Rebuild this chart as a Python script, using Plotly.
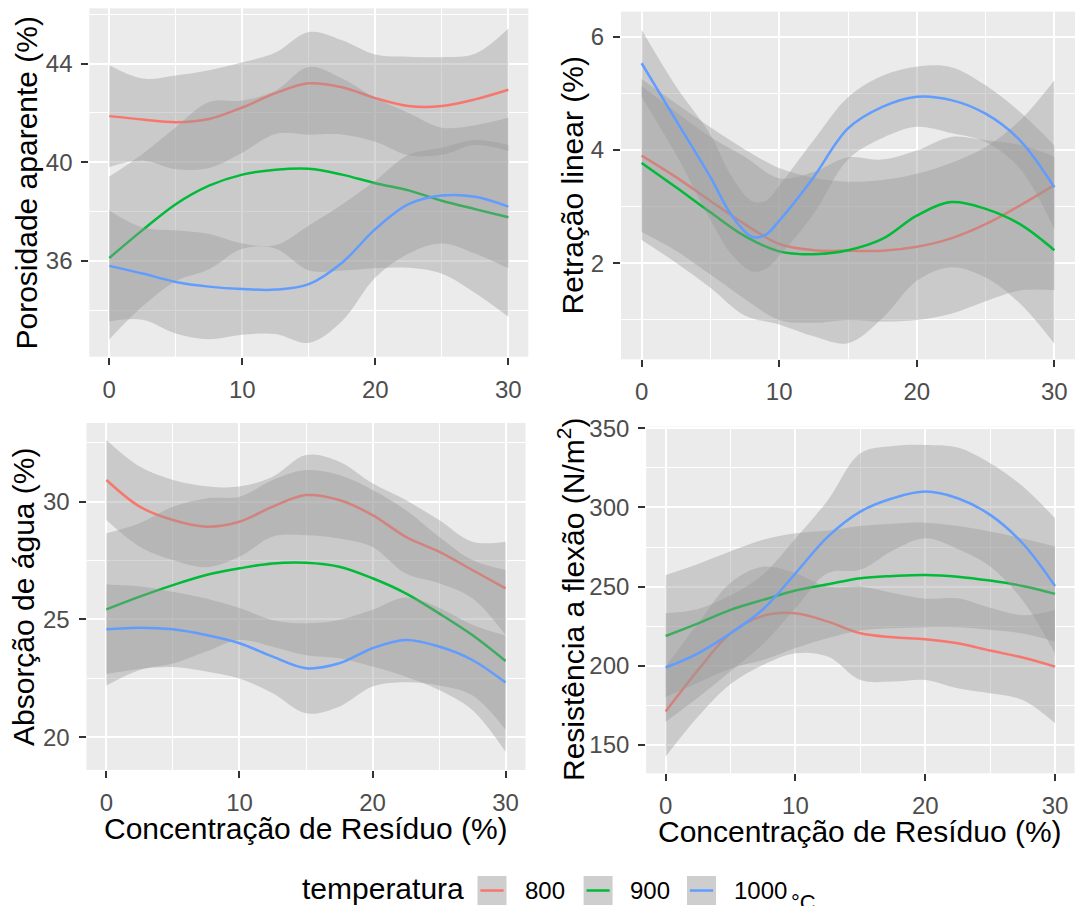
import plotly.graph_objects as go

# ---------------- data ----------------
X = [0, 2.5, 5, 7.5, 10, 12.5, 15, 17.5, 20, 22.5, 25, 27.5, 30]
X_RET_1000 = [0, 2.5, 5, 6.5, 8, 9, 10, 12.5, 15, 17.5, 20, 22.5, 25, 27.5, 30]
TEMPS = ["800", "900", "1000"]
COLORS = ["#F8766D", "#00BA38", "#619CFF"]

# Porosidade aparente (%)
por_800 = [41.87, 41.73, 41.62, 41.75, 42.22, 42.80, 43.20, 43.04, 42.60, 42.28, 42.28, 42.55, 42.94]
por_800_hi = [43.93, 43.39, 43.52, 43.73, 44.05, 44.45, 45.28, 44.95, 44.37, 44.28, 44.26, 44.40, 45.42]
por_800_lo = [39.81, 40.07, 39.72, 39.77, 40.39, 41.15, 41.12, 41.13, 40.83, 40.28, 40.30, 40.70, 40.46]
por_900 = [36.12, 37.25, 38.30, 39.05, 39.50, 39.70, 39.74, 39.50, 39.15, 38.86, 38.44, 38.10, 37.77]
por_900_hi = [39.42, 40.34, 41.42, 42.44, 42.50, 42.90, 43.86, 43.39, 42.60, 42.00, 41.40, 41.50, 41.80]
por_900_lo = [32.82, 34.16, 35.18, 35.66, 36.50, 36.50, 35.62, 35.61, 35.70, 35.72, 35.48, 34.70, 33.74]
por_1000 = [35.80, 35.49, 35.15, 34.96, 34.86, 34.84, 35.06, 35.93, 37.29, 38.30, 38.65, 38.60, 38.20]
por_1000_hi = [38.05, 37.36, 37.24, 37.09, 36.71, 36.64, 37.44, 38.29, 39.25, 40.30, 40.59, 40.90, 40.70]
por_1000_lo = [33.55, 33.62, 33.06, 32.83, 33.01, 33.04, 32.68, 33.57, 35.33, 36.30, 36.71, 36.30, 35.70]

# Retração linear (%)
ret_800 = [3.90, 3.52, 3.10, 2.69, 2.34, 2.23, 2.22, 2.22, 2.29, 2.44, 2.69, 3.02, 3.38]
ret_800_hi = [5.25, 4.82, 4.40, 4.01, 3.68, 3.51, 3.44, 3.47, 3.58, 3.77, 4.05, 4.52, 5.23]
ret_800_lo = [2.55, 2.22, 1.80, 1.37, 1.00, 0.95, 1.00, 0.97, 1.00, 1.11, 1.33, 1.52, 1.53]
ret_900 = [3.77, 3.34, 2.90, 2.48, 2.21, 2.16, 2.23, 2.43, 2.84, 3.08, 2.96, 2.69, 2.23]
ret_900_hi = [5.13, 4.67, 4.23, 3.88, 3.50, 3.61, 3.87, 3.83, 3.99, 4.23, 4.17, 4.09, 3.88]
ret_900_lo = [2.41, 2.01, 1.57, 1.08, 0.92, 0.71, 0.59, 1.03, 1.69, 1.93, 1.75, 1.29, 0.58]
ret_1000 = [5.53, 4.52, 3.52, 2.86, 2.47, 2.50, 2.75, 3.52, 4.38, 4.76, 4.94, 4.88, 4.64, 4.17, 3.34]
ret_1000_hi = [6.12, 5.12, 4.27, 3.55, 3.10, 3.10, 3.37, 4.17, 4.93, 5.31, 5.47, 5.46, 5.14, 4.67, 4.08]
ret_1000_lo = [4.94, 3.92, 2.77, 2.17, 1.86, 1.90, 2.13, 2.87, 3.83, 4.21, 4.41, 4.30, 4.14, 3.67, 2.60]

# Absorção de água (%)
abs_800 = [30.92, 29.79, 29.22, 28.94, 29.15, 29.79, 30.28, 30.07, 29.43, 28.51, 27.88, 27.10, 26.32]
abs_800_hi = [32.62, 31.49, 30.92, 30.66, 30.64, 31.06, 31.98, 31.70, 30.78, 30.07, 29.22, 28.30, 28.30]
abs_800_lo = [29.22, 28.09, 27.52, 27.22, 27.66, 28.52, 28.58, 28.44, 28.08, 26.95, 26.54, 25.90, 24.34]
abs_900 = [25.43, 25.97, 26.46, 26.89, 27.17, 27.38, 27.41, 27.24, 26.75, 26.11, 25.26, 24.34, 23.24]
abs_900_hi = [28.66, 29.08, 29.79, 30.14, 30.21, 30.92, 31.34, 31.13, 30.50, 29.65, 28.51, 27.52, 27.10]
abs_900_lo = [22.20, 22.86, 23.13, 23.64, 24.13, 23.84, 23.48, 23.35, 23.00, 22.57, 22.01, 21.16, 19.38]
abs_1000 = [24.58, 24.65, 24.58, 24.34, 23.99, 23.42, 22.93, 23.14, 23.78, 24.13, 23.85, 23.28, 22.32]
abs_1000_hi = [26.48, 26.40, 26.18, 25.89, 25.49, 24.97, 24.84, 24.98, 25.41, 25.93, 25.50, 24.78, 24.32]
abs_1000_lo = [22.68, 22.90, 22.98, 22.79, 22.49, 21.87, 21.02, 21.30, 22.15, 22.33, 22.20, 21.78, 20.32]

# Resistência a flexão (N/m²)
res_800 = [171.1, 197.4, 220.5, 231.5, 233.2, 227.9, 220.5, 218.0, 216.7, 214.2, 209.6, 205.2, 199.5]
res_800_hi = [199.6, 226.9, 252.5, 262.5, 258.5, 250.0, 250.0, 246.0, 242.4, 242.6, 236.6, 232.0, 235.3]
res_800_lo = [142.6, 167.9, 188.5, 200.5, 207.9, 205.8, 191.0, 190.0, 191.0, 185.8, 182.6, 178.4, 163.7]
res_900 = [218.8, 226.8, 235.3, 241.6, 247.5, 251.5, 255.3, 256.7, 257.4, 256.3, 253.8, 250.4, 245.4]
res_900_hi = [257.3, 264.3, 272.3, 279.6, 283.7, 285.5, 288.3, 289.7, 290.4, 288.3, 284.8, 280.4, 275.4]
res_900_lo = [180.3, 189.3, 198.3, 203.6, 211.3, 217.5, 222.3, 223.7, 224.4, 224.3, 222.8, 220.4, 215.4]
res_1000 = [198.9, 207.9, 220.5, 235.7, 258.4, 281.6, 297.4, 305.8, 310.0, 305.8, 295.3, 277.4, 250.4]
res_1000_hi = [233.2, 235.9, 244.5, 257.7, 280.4, 304.6, 334.2, 338.8, 339.5, 337.8, 327.9, 313.4, 293.2]
res_1000_lo = [164.6, 179.9, 196.5, 213.7, 236.4, 258.6, 260.6, 272.8, 280.5, 273.8, 262.7, 241.4, 207.6]

X_TICKS = [0, 10, 20, 30]
X_MINOR = [5, 15, 25]
Y_TICKS = [[36, 40, 44], [2, 4, 6], [20, 25, 30], [150, 200, 250, 300, 350]]
Y_MINOR = [[34, 38, 42, 46], [1, 3, 5], [22.5, 27.5, 32.5], [175, 225, 275, 325]]
Y_TITLES = ["Porosidade aparente (%)", "Retração linear (%)",
            "Absorção de água (%)", "Resistência a flexão (N/m<sup>2</sup>)"]
X_TITLE = "Concentração de Resíduo (%)"
LEGEND_TITLE = "temperatura"

PANELS = [
    [(X, por_800, por_800_lo, por_800_hi), (X, por_900, por_900_lo, por_900_hi),
     (X, por_1000, por_1000_lo, por_1000_hi)],
    [(X, ret_800, ret_800_lo, ret_800_hi), (X, ret_900, ret_900_lo, ret_900_hi),
     (X_RET_1000, ret_1000, ret_1000_lo, ret_1000_hi)],
    [(X, abs_800, abs_800_lo, abs_800_hi), (X, abs_900, abs_900_lo, abs_900_hi),
     (X, abs_1000, abs_1000_lo, abs_1000_hi)],
    [(X, res_800, res_800_lo, res_800_hi), (X, res_900, res_900_lo, res_900_hi),
     (X, res_1000, res_1000_lo, res_1000_hi)],
]

# ---------------- layout geometry (pixels) ----------------
W, H = 1075, 906
FONT = "Liberation Sans, Arial, sans-serif"
def px(x):
    return x / W
def py(y):
    return 1 - y / H

# panel boxes: left, right, top, bottom (pixels)
BOX = [(89.3, 528.3, 8.3, 356.7), (621.0, 1075.0, 11.7, 359.3),
       (86.5, 525.5, 423.0, 770.0), (646.2, 1074.5, 426.7, 773.3)]
Y_RANGE = [[32.12, 46.24], [0.305, 6.44], [18.61, 33.34], [132.1, 351.0]]
X_RANGE = [-1.5, 31.5]

fig = go.Figure()
BAND = "rgba(153,153,153,0.4)"

for p, series in enumerate(PANELS):
    xa = "x" if p == 0 else f"x{p+1}"
    ya = "y" if p == 0 else f"y{p+1}"
    for (xs, mean, lo, hi), color, t in zip(series, COLORS, TEMPS):
        fig.add_trace(go.Scatter(x=xs, y=lo, xaxis=xa, yaxis=ya, mode="lines",
                                 line=dict(width=0, shape="spline"), showlegend=False,
                                 hoverinfo="skip"))
        fig.add_trace(go.Scatter(x=xs, y=hi, xaxis=xa, yaxis=ya, mode="lines",
                                 line=dict(width=0, shape="spline"), fill="tonexty",
                                 fillcolor=BAND, showlegend=False, hoverinfo="skip"))
        fig.add_trace(go.Scatter(x=xs, y=mean, xaxis=xa, yaxis=ya, mode="lines",
                                 line=dict(width=2.5, color=color, shape="spline"),
                                 name=t, showlegend=False))

layout = dict(width=W, height=H, margin=dict(l=0, r=0, t=0, b=0, pad=0),
              paper_bgcolor="white", plot_bgcolor="#EBEBEB", autosize=False,
              font=dict(family=FONT, color="black"), showlegend=False)

tickfont = dict(family=FONT, size=24, color="#4D4D4D")
for p in range(4):
    l, r, t, b = BOX[p]
    sx = "xaxis" if p == 0 else f"xaxis{p+1}"
    sy = "yaxis" if p == 0 else f"yaxis{p+1}"
    ya = "y" if p == 0 else f"y{p+1}"
    xa = "x" if p == 0 else f"x{p+1}"
    common = dict(ticks="outside", ticklen=7, tickwidth=1.5, tickcolor="#333333",
                  showgrid=True, gridcolor="white", gridwidth=2, zeroline=False,
                  showline=False, tickfont=tickfont, tickmode="array",
                  ticklabelstandoff=4, automargin=False)
    layout[sx] = dict(domain=[px(l), px(r)], range=X_RANGE, anchor=ya,
                      tickvals=X_TICKS,
                      minor=dict(tickmode="array", tickvals=X_MINOR, showgrid=True,
                                 gridcolor="white", gridwidth=1, ticks=""),
                      **common)
    layout[sy] = dict(domain=[py(b), py(t)], range=Y_RANGE[p], anchor=xa,
                      tickvals=Y_TICKS[p],
                      minor=dict(tickmode="array", tickvals=Y_MINOR[p], showgrid=True,
                                 gridcolor="white", gridwidth=1, ticks=""),
                      **common)

annotations = []
TITLE_X = [26, 572, 23.5, 571]
for p in range(4):
    l, r, t, b = BOX[p]
    annotations.append(dict(text=Y_TITLES[p], x=px(TITLE_X[p]), y=py((t + b) / 2),
                            xref="paper", yref="paper", showarrow=False, textangle=-90,
                            xanchor="center", yanchor="middle",
                            font=dict(family=FONT, size=30, color="black")))
for p, yc in ((2, 828), (3, 831)):
    l, r, t, b = BOX[p]
    annotations.append(dict(text=X_TITLE, x=px((l + r) / 2), y=py(yc),
                            xref="paper", yref="paper", showarrow=False,
                            xanchor="center", yanchor="middle",
                            font=dict(family=FONT, size=30, color="black")))

# legend (drawn by hand to mimic ggplot keys)
annotations.append(dict(text=LEGEND_TITLE, x=px(299.5), y=py(888), xref="paper", yref="paper",
                        showarrow=False, xanchor="left", yanchor="middle",
                        font=dict(family=FONT, size=30, color="black")))
shapes = []
KEY_X = [477.5, 583.6, 687.0]
LABEL_X = [523.0, 628.2, 731.8]
KEY_TOP, KEY_SIZE = 876, 29
for k, (kx, lx, color, t) in enumerate(zip(KEY_X, LABEL_X, COLORS, TEMPS)):
    shapes.append(dict(type="rect", xref="paper", yref="paper", x0=px(kx), x1=px(kx + KEY_SIZE),
                       y0=py(KEY_TOP + KEY_SIZE), y1=py(KEY_TOP), fillcolor="#CECECE",
                       line=dict(width=0), layer="above"))
    shapes.append(dict(type="line", xref="paper", yref="paper",
                       x0=px(kx + 0.1 * KEY_SIZE), x1=px(kx + 0.9 * KEY_SIZE),
                       y0=py(KEY_TOP + KEY_SIZE / 2), y1=py(KEY_TOP + KEY_SIZE / 2),
                       line=dict(color=color, width=2.5), layer="above"))
    annotations.append(dict(text=t, x=px(lx), y=py(890), xref="paper", yref="paper",
                            showarrow=False, xanchor="left", yanchor="middle",
                            font=dict(family=FONT, size=24, color="black")))
annotations.append(dict(text="°C", x=px(789), y=py(902), xref="paper", yref="paper",
                        showarrow=False, xanchor="left", yanchor="middle",
                        font=dict(family=FONT, size=22, color="black")))

layout["annotations"] = annotations
layout["shapes"] = shapes
fig.update_layout(**layout)
fig.write_html("out.html")

# make sure the page itself adds no margin around the figure
with open("out.html", encoding="utf-8") as f:
    html = f.read()
html = html.replace("<head>", "<head><style>html,body{margin:0;padding:0;overflow:hidden}</style>", 1)
with open("out.html", "w", encoding="utf-8") as f:
    f.write(html)
